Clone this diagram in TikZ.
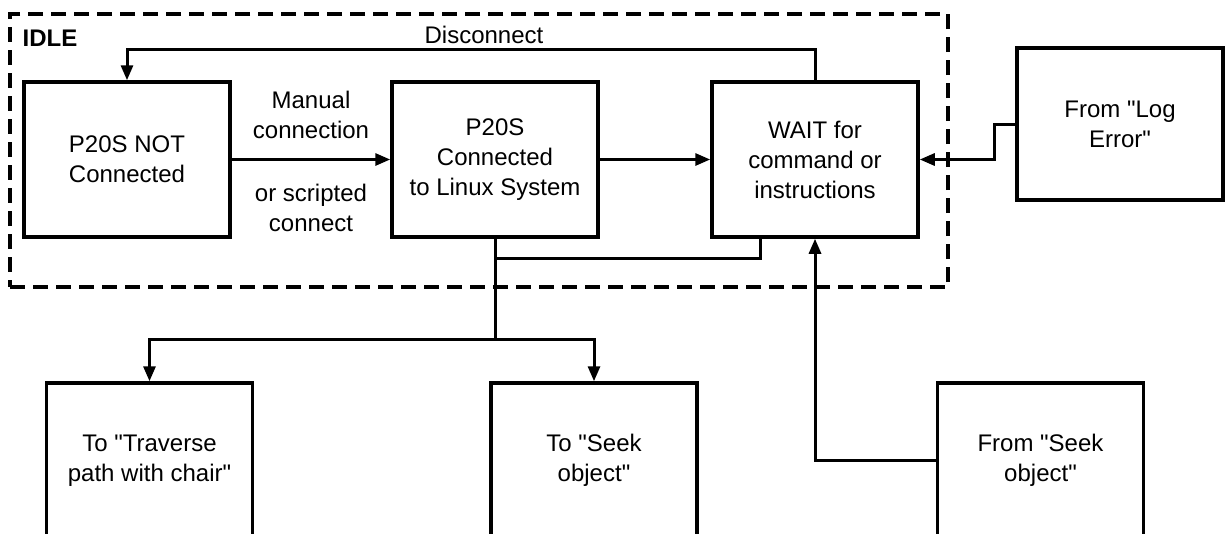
\documentclass[tikz,border=0pt]{standalone}
\usepackage{fontspec}
\setmainfont{Liberation Sans}
\usetikzlibrary{arrows.meta}
\newcommand\sq{\textquotedbl}
\begin{document}
\begin{tikzpicture}[x=1pt,y=-1pt,
  statebox/.style={draw, line width=3.5pt, minimum width=206pt, minimum height=155pt,
    inner sep=0pt, align=center, font=\fontsize{24}{30}\selectfont},
  lbl/.style={align=center, inner sep=0pt, font=\fontsize{24}{30}\selectfont},
  conn/.style={line width=3pt},
  arr/.style={conn, -{Triangle[length=15pt,width=12pt]}},
  region/.style={draw, line width=3.5pt, dash pattern=on 15pt off 8pt,
    minimum width=938pt, minimum height=273pt, inner sep=0pt}]
\useasboundingbox (0,0) rectangle (1225,533);
\fill[white] (0,0) rectangle (1225,533);
\clip (0,0) rectangle (1225,533);

% IDLE region
\node[region] (idle) at (479,150.5) {};
\node[inner sep=0pt, font=\fontsize{24}{30}\selectfont\bfseries] (idlelbl) at (50,38) {IDLE};

% states
\node[statebox] (notc) at (127,159.5) {P20S NOT\\Connected};
\node[statebox] (conn) at (495,159.5) {P20S\\Connected\\to Linux System};
\node[statebox] (wait) at (815,159.5) {WAIT for\\command or\\instructions};
\node[statebox, minimum height=152pt] (logerr) at (1120,124) {From \sq Log\\Error\sq};

\node[statebox] (trav) at (149.5,460.5) {To \sq Traverse\\path with chair\sq};
\node[statebox] (seekto) at (594,460.5) {To \sq Seek\\object\sq};
\node[statebox] (seekfrom) at (1040.5,460.5) {From \sq Seek\\object\sq};

% labels
\node[lbl] (dlbl) at (484,35) {Disconnect};
\node[lbl] (mlbl) at (311,115) {Manual\\connection};
\node[lbl] (slbl) at (311,208) {or scripted\\connect};

% connectors
\draw[arr] (wait.north) -- ++(0,-31) -| (notc.north);
\draw[arr] (notc.east) -- (conn.west);
\draw[arr] (conn.east) -- (wait.east -| wait.west);
\draw[arr] (logerr.west) -- ++(-21,0) |- (wait.east);
\coordinate (join) at (495,258);
\draw[conn] ([xshift=50pt]wait.south west) |- (join);
\coordinate (split) at (495,339);
\draw[conn] (conn.south) -- (split);
\draw[arr] (split) -| (trav.north);
\draw[arr] (split) -| (seekto.north);
\draw[arr] (seekfrom.west) -| (wait.south);
\end{tikzpicture}
\end{document}
